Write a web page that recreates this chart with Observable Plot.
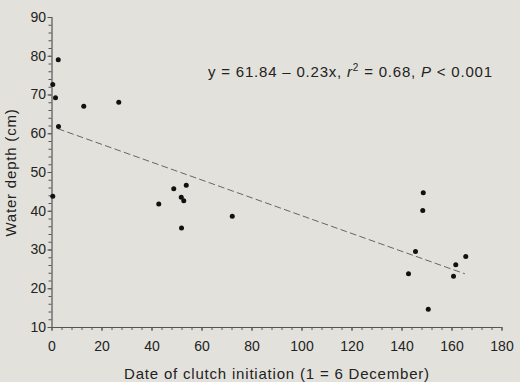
<!DOCTYPE html>
<html>
<head>
<meta charset="utf-8">
<script src="https://cdn.jsdelivr.net/npm/d3@7"></script>
<script src="https://cdn.jsdelivr.net/npm/@observablehq/plot@0.6"></script>
<style>
  html, body { margin: 0; padding: 0; background: #e3e1dc; }
  #chart { width: 520px; height: 382px; }
  svg { display: block; }
</style>
</head>
<body>
<div id="chart"></div>
<script>
// Date of clutch initiation (days, 1 = 6 December)
const clutchDate = [0.3, 0.3, 2.5, 1.4, 2.6, 12.7, 26.7, 42.7, 48.7, 51.7, 52.7, 51.8, 53.7, 72.1,
                    142.6, 145.4, 148.3, 148.5, 150.5, 160.6, 161.5, 165.5];
// Water depth (cm)
const waterDepth = [43.9, 72.7, 79.1, 69.3, 61.9, 67.1, 68.1, 41.9, 45.8, 43.6, 42.7, 35.7, 46.7, 38.7,
                    23.9, 29.6, 40.2, 44.8, 14.7, 23.2, 26.2, 28.3];
// Regression line y = 61.84 - 0.23x drawn across the data range
const fitIntercept = 61.84;
const fitSlope = -0.23;
const fitRange = [2.5, 165];

const xMajorTicks = [0, 20, 40, 60, 80, 100, 120, 140, 160, 180];
const xMinorTicks = d3.range(0, 181, 4);
const yMajorTicks = [10, 20, 30, 40, 50, 60, 70, 80, 90];
const yMinorTicks = d3.range(10, 91, 2);

const xLabel = "Date of clutch initiation (1 = 6 December)";
const yLabel = "Water depth (cm)";

const points = clutchDate.map((d, i) => ({x: d, y: waterDepth[i]}));
const fitLine = fitRange.map(x => ({x, y: fitIntercept + fitSlope * x}));

const font = "'Liberation Sans', Arial, Helvetica, sans-serif";
const axisColor = "#555";
const textColor = "#222";

const plot = Plot.plot({
  width: 520,
  height: 382,
  marginLeft: 51.5,
  marginRight: 18.5,
  marginTop: 17,
  marginBottom: 55,
  style: {background: "#e3e1dc", fontFamily: font, fontSize: "14px", color: textColor},
  x: {domain: [0, 180]},
  y: {domain: [10, 90]},
  marks: [
    Plot.axisX({ticks: xMinorTicks, tickSize: 3, tickFormat: () => "", stroke: axisColor, label: null}),
    Plot.axisX({ticks: xMajorTicks, tickSize: 4, tickPadding: 10, stroke: axisColor, fill: textColor,
                fontSize: 14, label: null}),
    Plot.axisX({ticks: [], fill: textColor, fontSize: 15, label: xLabel, labelAnchor: "center",
                labelOffset: 51, labelArrow: "none"}),
    Plot.axisY({ticks: yMinorTicks, tickSize: 3, tickFormat: () => "", stroke: axisColor, label: null}),
    Plot.axisY({ticks: yMajorTicks, tickSize: 4, tickPadding: 2, stroke: axisColor, fill: textColor,
                fontSize: 14, label: null}),
    Plot.axisY({ticks: [], fill: textColor, fontSize: 15, label: yLabel, labelAnchor: "center",
                labelOffset: 47, labelArrow: "none"}),
    Plot.ruleY([10], {stroke: axisColor, strokeWidth: 1.2}),
    Plot.ruleX([0], {stroke: axisColor, strokeWidth: 1.2}),
    Plot.line(fitLine, {x: "x", y: "y", stroke: "#666", strokeWidth: 1, strokeDasharray: "6,4"}),
    Plot.dot(points, {x: "x", y: "y", r: 2.5, fill: "#111", stroke: "none"})
  ]
});

document.getElementById("chart").appendChild(plot);

const svg = d3.select(plot);
// Slightly looser letter spacing on the axis titles, as in the reference typeface
svg.selectAll("text")
  .filter(function() { return this.textContent === xLabel || this.textContent === yLabel; })
  .attr("letter-spacing", 0.8);

// Regression annotation with italic r / P and superscript 2
const sx = plot.scale("x"), sy = plot.scale("y");
const t = svg.append("text")
  .attr("x", sx.apply(62.6))
  .attr("y", sy.apply(74.5))
  .attr("text-anchor", "start")
  .attr("font-family", font)
  .attr("font-size", 15)
  .attr("letter-spacing", 0.8)
  .attr("fill", textColor);
t.append("tspan").text("y = 61.84 \u2013 0.23x, ");
t.append("tspan").attr("font-style", "italic").text("r");
t.append("tspan").attr("font-size", 10).attr("dy", -6).text("2");
t.append("tspan").attr("dy", 6).text(" = 0.68, ");
t.append("tspan").attr("font-style", "italic").text("P");
t.append("tspan").text(" < 0.001");
</script>
</body>
</html>
